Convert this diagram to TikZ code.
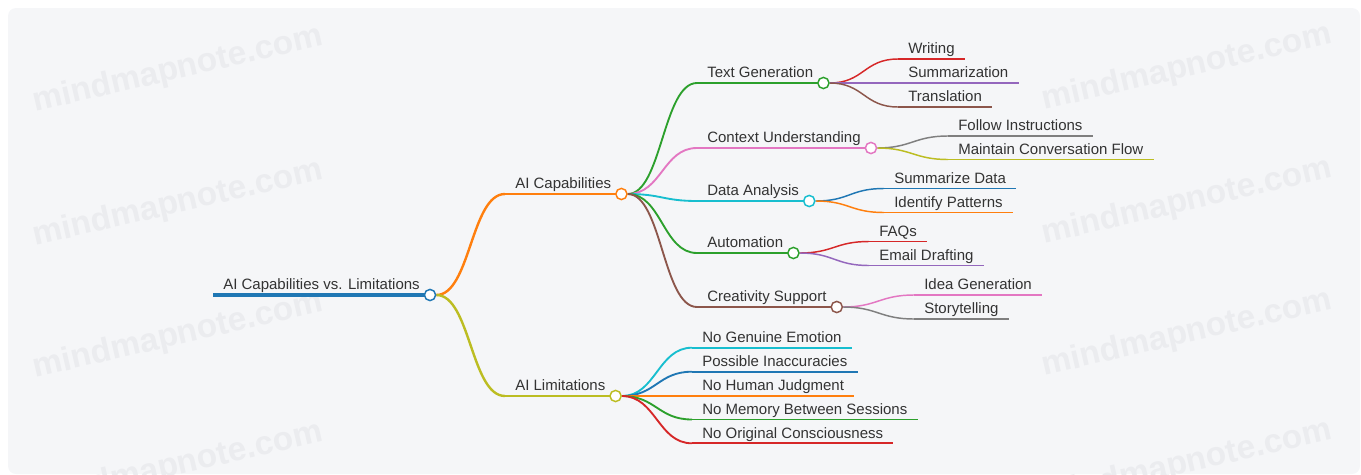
\documentclass[tikz,border=0pt]{standalone}
\usepackage{fontspec}
\setmainfont{Liberation Sans}
\definecolor{cblue}{HTML}{1F77B4}
\definecolor{corange}{HTML}{FF7F0E}
\definecolor{cgreen}{HTML}{2CA02C}
\definecolor{cred}{HTML}{D62728}
\definecolor{cpurple}{HTML}{9467BD}
\definecolor{cbrown}{HTML}{8C564B}
\definecolor{cpink}{HTML}{E377C2}
\definecolor{cgray}{HTML}{7F7F7F}
\definecolor{colive}{HTML}{BCBD22}
\definecolor{ccyan}{HTML}{17BECF}
\definecolor{txt}{HTML}{333333}
\definecolor{bgfill}{HTML}{F5F6F8}
\definecolor{wmark}{HTML}{EBECEF}
\pgfdeclarelayer{back}
\pgfdeclarelayer{links}
\pgfsetlayers{back,links,main}
\begin{document}
\begin{tikzpicture}[x=0.75pt,y=-0.75pt,
  lbl/.style={anchor=south west, inner xsep=7.5pt, inner ysep=0pt, text height=8.4pt, text depth=3.75pt, font=\fontsize{11.25}{13}\selectfont, text=txt},
  dot/.style={circle, draw=#1, fill=white, line width=1.1pt, inner sep=0pt, minimum size=8.4pt},
  ulzero/.style={line width=3pt, draw=#1},
  ulone/.style={line width=2.2pt, draw=#1},
  ultwo/.style={line width=1.7pt, draw=#1},
  ulthree/.style={line width=1.3pt, draw=#1},
  lnkone/.style={line width=1.8pt, draw=#1},
  lnktwo/.style={line width=1.4pt, draw=#1},
  lnkthree/.style={line width=1.1pt, draw=#1},
  wm/.style={font=\fontsize{25}{28}\bfseries, text=wmark, rotate=13, inner sep=0pt}
]
\useasboundingbox (0,0) rectangle (1361,475);
\begin{pgfonlayer}{back}
  \fill[bgfill, rounded corners=6pt] (8,8) rectangle (1360,474);
  \begin{scope}
    \clip (8,8) rectangle (1360,474);
    \node[wm] (wa) at (178,70) {mindmapnote.com};
    \node[wm] (wb) at (178,204) {mindmapnote.com};
    \node[wm] (wc) at (178,336) {mindmapnote.com};
    \node[wm] (wd) at (178,466) {mindmapnote.com};
    \node[wm] (we) at (1187,68) {mindmapnote.com};
    \node[wm] (wf) at (1187,202) {mindmapnote.com};
    \node[wm] (wg) at (1187,334) {mindmapnote.com};
    \node[wm] (wh) at (1187,464) {mindmapnote.com};
  \end{scope}
\end{pgfonlayer}

% ---------- text nodes ----------
\node[lbl] (root) at (213,295) {AI Capabilities vs. Limitations};
\node[lbl] (cap) at (505,194) {AI Capabilities};
\node[lbl] (lim) at (505,396) {AI Limitations};
\node[lbl] (tg) at (697,83) {Text Generation};
\node[lbl] (cu) at (697,148) {Context Understanding};
\node[lbl] (da) at (697,201) {Data Analysis};
\node[lbl] (au) at (697,253) {Automation};
\node[lbl] (cs) at (697,307) {Creativity Support};
\node[lbl] (wr) at (898,59) {Writing};
\node[lbl] (su) at (898,83) {Summarization};
\node[lbl] (tr) at (898,107) {Translation};
\node[lbl] (fi) at (948,136) {Follow Instructions};
\node[lbl] (mc) at (948,159.5) {Maintain Conversation Flow};
\node[lbl] (sd) at (884,188.5) {Summarize Data};
\node[lbl] (ip) at (884,212.5) {Identify Patterns};
\node[lbl] (fq) at (869,241.5) {FAQs};
\node[lbl] (ed) at (869,265.5) {Email Drafting};
\node[lbl] (ig) at (914,295) {Idea Generation};
\node[lbl] (st) at (914,319) {Storytelling};
\node[lbl] (la) at (692,347.7) {No Genuine Emotion};
\node[lbl] (lb) at (692,371.7) {Possible Inaccuracies};
\node[lbl] (lc) at (692,396) {No Human Judgment};
\node[lbl] (ld) at (692,419.5) {No Memory Between Sessions};
\node[lbl] (le) at (692,443.3) {No Original Consciousness};

% ---------- circles ----------
\node[dot=cblue] (rootc) at (root.south east) {};
\node[dot=corange] (capc) at (cap.south east) {};
\node[dot=colive] (limc) at (lim.south east) {};
\node[dot=cgreen] (tgc) at (tg.south east) {};
\node[dot=cpink] (cuc) at (cu.south east) {};
\node[dot=ccyan] (dac) at (da.south east) {};
\node[dot=cgreen] (auc) at (au.south east) {};
\node[dot=cbrown] (csc) at (cs.south east) {};

\begin{pgfonlayer}{links}
  % underlines
  \draw[ulzero=cblue] (root.south west) -- (root.south east);
  \draw[ulone=corange] (cap.south west) -- (cap.south east);
  \draw[ulone=colive] (lim.south west) -- (lim.south east);
  \draw[ultwo=cgreen] (tg.south west) -- (tg.south east);
  \draw[ultwo=cpink] (cu.south west) -- (cu.south east);
  \draw[ultwo=ccyan] (da.south west) -- (da.south east);
  \draw[ultwo=cgreen] (au.south west) -- (au.south east);
  \draw[ultwo=cbrown] (cs.south west) -- (cs.south east);
  \draw[ulthree=cred] (wr.south west) -- (wr.south east);
  \draw[ulthree=cpurple] (su.south west) -- (su.south east);
  \draw[ulthree=cbrown] (tr.south west) -- (tr.south east);
  \draw[ulthree=cgray] (fi.south west) -- (fi.south east);
  \draw[ulthree=colive] (mc.south west) -- (mc.south east);
  \draw[ulthree=cblue] (sd.south west) -- (sd.south east);
  \draw[ulthree=corange] (ip.south west) -- (ip.south east);
  \draw[ulthree=cred] (fq.south west) -- (fq.south east);
  \draw[ulthree=cpurple] (ed.south west) -- (ed.south east);
  \draw[ulthree=cpink] (ig.south west) -- (ig.south east);
  \draw[ulthree=cgray] (st.south west) -- (st.south east);
  \draw[ulthree=ccyan] (la.south west) -- (la.south east);
  \draw[ulthree=cblue] (lb.south west) -- (lb.south east);
  \draw[ulthree=corange] (lc.south west) -- (lc.south east);
  \draw[ulthree=cgreen] (ld.south west) -- (ld.south east);
  \draw[ulthree=cred] (le.south west) -- (le.south east);
  % links
  \draw[lnkone=corange] (rootc.east) .. controls +(34,0) and +(-34,0) .. (cap.south west);
  \draw[lnkone=colive] (rootc.east) .. controls +(34,0) and +(-34,0) .. (lim.south west);
  \draw[lnktwo=cgreen] (capc.east) .. controls +(34,0) and +(-34,0) .. (tg.south west);
  \draw[lnktwo=cpink] (capc.east) .. controls +(34,0) and +(-34,0) .. (cu.south west);
  \draw[lnktwo=ccyan] (capc.east) .. controls +(34,0) and +(-34,0) .. (da.south west);
  \draw[lnktwo=cgreen] (capc.east) .. controls +(34,0) and +(-34,0) .. (au.south west);
  \draw[lnktwo=cbrown] (capc.east) .. controls +(34,0) and +(-34,0) .. (cs.south west);
  \draw[lnkthree=cred] (tgc.east) .. controls +(34,0) and +(-34,0) .. (wr.south west);
  \draw[lnkthree=cpurple] (tgc.east) .. controls +(34,0) and +(-34,0) .. (su.south west);
  \draw[lnkthree=cbrown] (tgc.east) .. controls +(34,0) and +(-34,0) .. (tr.south west);
  \draw[lnkthree=cgray] (cuc.east) .. controls +(34,0) and +(-34,0) .. (fi.south west);
  \draw[lnkthree=colive] (cuc.east) .. controls +(34,0) and +(-34,0) .. (mc.south west);
  \draw[lnkthree=cblue] (dac.east) .. controls +(34,0) and +(-34,0) .. (sd.south west);
  \draw[lnkthree=corange] (dac.east) .. controls +(34,0) and +(-34,0) .. (ip.south west);
  \draw[lnkthree=cred] (auc.east) .. controls +(34,0) and +(-34,0) .. (fq.south west);
  \draw[lnkthree=cpurple] (auc.east) .. controls +(34,0) and +(-34,0) .. (ed.south west);
  \draw[lnkthree=cpink] (csc.east) .. controls +(34,0) and +(-34,0) .. (ig.south west);
  \draw[lnkthree=cgray] (csc.east) .. controls +(34,0) and +(-34,0) .. (st.south west);
  \draw[lnktwo=ccyan] (limc.east) .. controls +(34,0) and +(-34,0) .. (la.south west);
  \draw[lnktwo=cblue] (limc.east) .. controls +(34,0) and +(-34,0) .. (lb.south west);
  \draw[lnktwo=corange] (limc.east) .. controls +(34,0) and +(-34,0) .. (lc.south west);
  \draw[lnktwo=cgreen] (limc.east) .. controls +(34,0) and +(-34,0) .. (ld.south west);
  \draw[lnktwo=cred] (limc.east) .. controls +(34,0) and +(-34,0) .. (le.south west);
\end{pgfonlayer}
\end{tikzpicture}
\end{document}
